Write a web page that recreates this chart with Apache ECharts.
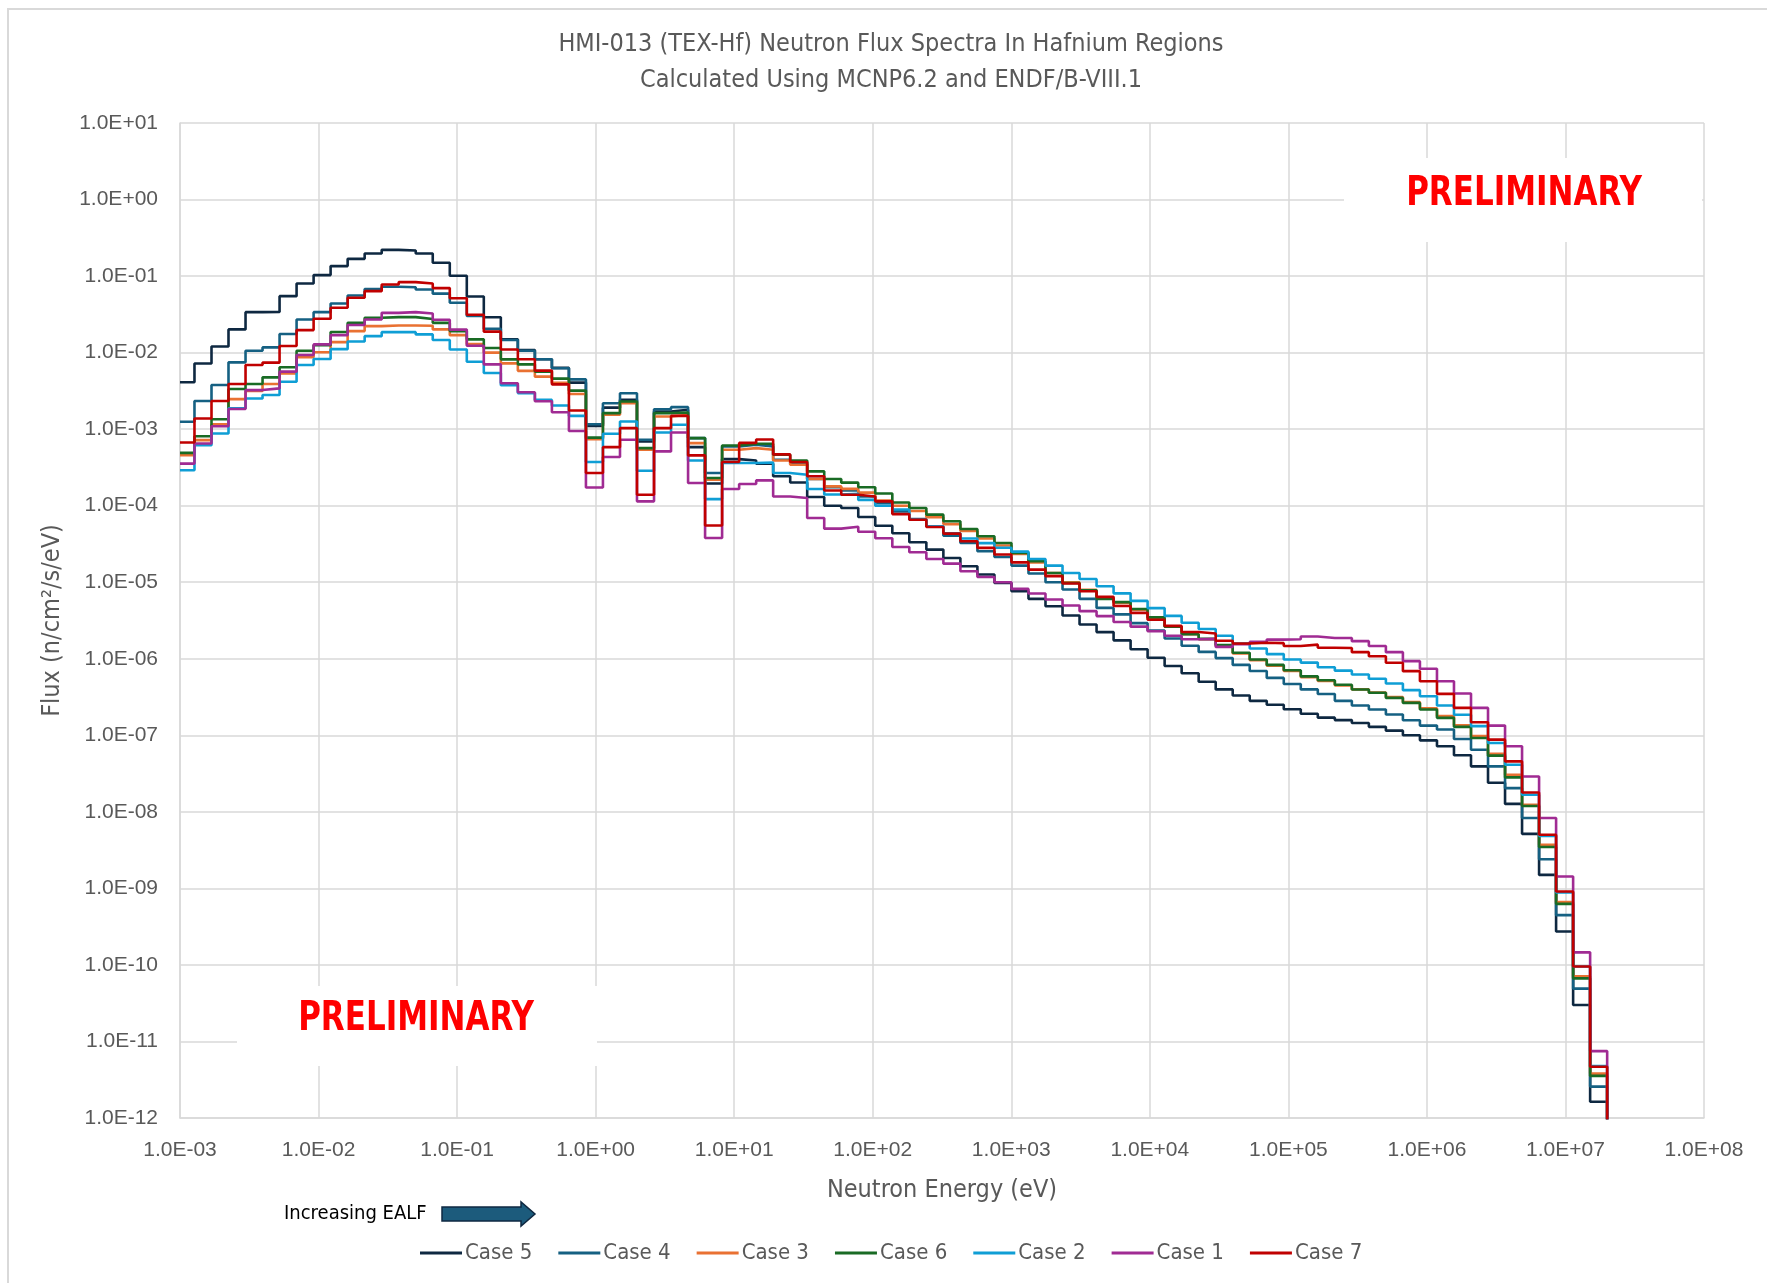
<!DOCTYPE html>
<html>
<head>
<meta charset="utf-8">
<title>HMI-013 (TEX-Hf) Neutron Flux Spectra</title>
<script src="https://cdn.jsdelivr.net/npm/echarts@6/dist/echarts.min.js"></script>
<style>
  html, body { margin: 0; padding: 0; background: #fff; }
  #fluxChart { width: 1767px; height: 1283px; }
</style>
</head>
<body>
<div id="fluxChart"></div>
<script>
// group boundaries in eV (first value = lower edge of the first plotted group)
const energyEdges = [
  1.0e-3, 1.272e-3, 1.688e-3, 2.239e-3, 2.972e-3, 3.943e-3, 5.232e-3, 6.942e-3, 9.213e-3,
  1.222e-2, 1.622e-2, 2.152e-2, 2.856e-2, 3.790e-2, 5.029e-2, 6.673e-2, 8.856e-2,
  0.1175, 0.1559, 0.2069, 0.2745, 0.3643, 0.4834, 0.6414, 0.8511,
  1.129, 1.499, 1.988, 2.639, 3.501, 4.647, 6.165, 8.181,
  10.86, 14.41, 19.11, 25.37, 33.65, 44.66, 59.26, 78.63,
  104.3, 138.5, 183.7, 243.8, 323.5, 429.3, 569.6, 755.9,
  1003, 1331, 1766, 2344, 3110, 4127, 5476, 7266, 9638,
  12790, 16970, 22520, 29890, 39660, 52620, 69820, 92650,
  122900, 163100, 216500, 287200, 381100, 505700, 671000, 890400,
  1.182e6, 1.568e6, 2.081e6, 2.761e6, 3.664e6, 4.861e6, 6.451e6, 8.559e6,
  1.136e7, 1.507e7, 2.0e7
]

// group flux, n/cm2/s/eV (one value per group)
const case5 = [
  4.1e-3, 7.2e-3, 1.20e-2, 2.01e-2, 3.38e-2, 3.39e-2, 5.47e-2, 8.0e-2, 1.03e-1, 1.35e-1,
  1.68e-1, 1.97e-1, 2.20e-1, 2.16e-1, 1.97e-1, 1.49e-1, 1.01e-1, 5.42e-2, 2.90e-2, 1.49e-2,
  1.08e-2, 8.18e-3, 6.31e-3, 4.06e-3, 1.10e-3, 1.91e-3, 2.42e-3, 6.90e-4, 1.70e-3, 1.79e-3,
  5.82e-4, 1.95e-4, 4.06e-4, 3.90e-4, 3.53e-4, 2.42e-4, 2.01e-4, 1.30e-4, 1.00e-4, 9.33e-5,
  7.11e-5, 5.48e-5, 4.37e-5, 3.33e-5, 2.67e-5, 2.07e-5, 1.62e-5, 1.26e-5, 9.79e-6, 7.64e-6,
  6.07e-6, 4.86e-6, 3.67e-6, 2.81e-6, 2.23e-6, 1.74e-6, 1.33e-6, 1.03e-6, 8.05e-7, 6.46e-7,
  5.01e-7, 3.98e-7, 3.31e-7, 2.82e-7, 2.51e-7, 2.19e-7, 1.91e-7, 1.70e-7, 1.58e-7, 1.45e-7,
  1.29e-7, 1.15e-7, 1.00e-7, 8.59e-8, 7.18e-8, 5.50e-8, 3.93e-8, 2.40e-8, 1.27e-8, 5.16e-9,
  1.50e-9, 2.73e-10, 2.99e-11, 1.63e-12
]
const case4 = [
  1.25e-3, 2.33e-3, 3.77e-3, 7.46e-3, 1.06e-2, 1.17e-2, 1.75e-2, 2.71e-2, 3.38e-2, 4.39e-2,
  5.58e-2, 6.76e-2, 7.24e-2, 7.16e-2, 6.68e-2, 5.89e-2, 4.48e-2, 3.02e-2, 2.04e-2, 1.46e-2,
  1.06e-2, 8.18e-3, 6.25e-3, 4.47e-3, 1.16e-3, 2.18e-3, 2.95e-3, 7.26e-4, 1.82e-3, 1.94e-3,
  7.64e-4, 2.67e-4, 5.94e-4, 6.25e-4, 5.94e-4, 3.98e-4, 3.53e-4, 2.23e-4, 1.74e-4, 1.58e-4,
  1.32e-4, 1.08e-4, 8.43e-5, 6.70e-5, 5.37e-5, 4.06e-5, 3.26e-5, 2.54e-5, 2.14e-5, 1.65e-5,
  1.30e-5, 1.00e-5, 8.02e-6, 6.07e-6, 4.62e-6, 3.80e-6, 2.92e-6, 2.34e-6, 1.84e-6, 1.48e-6,
  1.23e-6, 1.02e-6, 8.32e-7, 6.92e-7, 5.62e-7, 4.68e-7, 3.98e-7, 3.47e-7, 2.82e-7, 2.45e-7,
  2.17e-7, 1.87e-7, 1.57e-7, 1.34e-7, 1.19e-7, 8.95e-8, 6.49e-8, 3.93e-8, 2.04e-8, 8.32e-9,
  2.40e-9, 4.47e-10, 4.90e-11, 2.57e-12
]
const case3 = [
  4.56e-4, 7.18e-4, 1.16e-3, 2.47e-3, 3.15e-3, 3.89e-3, 5.36e-3, 8.69e-3, 1.01e-2, 1.37e-2,
  1.91e-2, 2.22e-2, 2.26e-2, 2.26e-2, 2.24e-2, 2.01e-2, 1.69e-2, 1.29e-2, 1.00e-2, 7.24e-3,
  5.78e-3, 4.85e-3, 4.03e-3, 2.88e-3, 7.41e-4, 1.54e-3, 2.18e-3, 5.37e-4, 1.46e-3, 1.54e-3,
  6.56e-4, 2.18e-4, 5.37e-4, 5.65e-4, 5.37e-4, 3.90e-4, 3.43e-4, 2.23e-4, 1.79e-4, 1.66e-4,
  1.48e-4, 1.17e-4, 1.00e-4, 8.51e-5, 7.08e-5, 5.75e-5, 4.68e-5, 3.72e-5, 3.02e-5, 2.34e-5,
  1.82e-5, 1.32e-5, 1.00e-5, 7.94e-6, 6.17e-6, 5.37e-6, 4.37e-6, 3.39e-6, 2.63e-6, 2.09e-6,
  1.80e-6, 1.48e-6, 1.17e-6, 9.55e-7, 8.13e-7, 6.92e-7, 5.75e-7, 5.13e-7, 4.47e-7, 3.98e-7,
  3.63e-7, 3.16e-7, 2.72e-7, 2.26e-7, 1.78e-7, 1.35e-7, 9.77e-8, 5.75e-8, 3.05e-8, 1.24e-8,
  3.72e-9, 6.61e-10, 7.08e-11, 3.80e-12
]
const case6 = [
  4.90e-4, 8.09e-4, 1.35e-3, 3.34e-3, 3.89e-3, 4.75e-3, 6.43e-3, 1.06e-2, 1.25e-2, 1.86e-2,
  2.45e-2, 2.85e-2, 2.91e-2, 2.91e-2, 2.75e-2, 2.45e-2, 1.91e-2, 1.49e-2, 1.15e-2, 8.17e-3,
  7.03e-3, 5.65e-3, 4.57e-3, 3.19e-3, 7.76e-4, 1.62e-3, 2.30e-3, 5.65e-4, 1.62e-3, 1.65e-3,
  7.64e-4, 2.30e-4, 6.12e-4, 6.44e-4, 6.44e-4, 4.62e-4, 3.90e-4, 2.81e-4, 2.23e-4, 2.00e-4,
  1.74e-4, 1.44e-4, 1.10e-4, 9.33e-5, 7.64e-5, 6.25e-5, 4.97e-5, 3.98e-5, 3.26e-5, 2.42e-5,
  1.88e-5, 1.32e-5, 9.79e-6, 7.87e-6, 6.07e-6, 5.50e-6, 4.47e-6, 3.47e-6, 2.63e-6, 2.09e-6,
  1.82e-6, 1.51e-6, 1.20e-6, 9.77e-7, 8.32e-7, 7.08e-7, 5.89e-7, 5.25e-7, 4.57e-7, 3.96e-7,
  3.59e-7, 3.08e-7, 2.65e-7, 2.17e-7, 1.69e-7, 1.29e-7, 9.23e-8, 5.42e-8, 2.82e-8, 1.19e-8,
  3.47e-9, 6.28e-10, 6.68e-11, 3.55e-12
]
const case2 = [
  2.90e-4, 6.17e-4, 8.77e-4, 1.87e-3, 2.52e-3, 2.79e-3, 4.17e-3, 6.89e-3, 8.26e-3, 1.11e-2,
  1.40e-2, 1.64e-2, 1.85e-2, 1.85e-2, 1.73e-2, 1.46e-2, 1.10e-2, 7.59e-3, 5.41e-3, 3.76e-3,
  2.96e-3, 2.41e-3, 2.04e-3, 1.49e-3, 3.72e-4, 8.69e-4, 1.26e-3, 2.86e-4, 9.06e-4, 1.14e-3,
  3.90e-4, 1.22e-4, 3.61e-4, 3.61e-4, 3.67e-4, 2.67e-4, 2.54e-4, 1.65e-4, 1.40e-4, 1.43e-4,
  1.19e-4, 1.00e-4, 8.91e-5, 6.56e-5, 5.37e-5, 4.37e-5, 3.72e-5, 3.24e-5, 2.82e-5, 2.51e-5,
  2.01e-5, 1.65e-5, 1.32e-5, 1.10e-5, 8.87e-6, 7.16e-6, 5.70e-6, 4.59e-6, 3.63e-6, 2.95e-6,
  2.45e-6, 2.00e-6, 1.58e-6, 1.36e-6, 1.15e-6, 9.77e-7, 8.91e-7, 7.76e-7, 7.00e-7, 6.24e-7,
  5.47e-7, 4.75e-7, 3.89e-7, 3.24e-7, 2.45e-7, 1.86e-7, 1.32e-7, 7.94e-8, 4.13e-8, 1.67e-8,
  4.86e-9, 8.83e-10, 9.55e-11, 4.79e-12
]
const case1 = [
  3.55e-4, 6.49e-4, 1.09e-3, 1.83e-3, 3.24e-3, 3.41e-3, 5.64e-3, 9.31e-3, 1.28e-2, 1.69e-2,
  2.29e-2, 2.71e-2, 3.31e-2, 3.38e-2, 3.25e-2, 2.69e-2, 2.00e-2, 1.23e-2, 7.03e-3, 3.98e-3,
  3.04e-3, 2.31e-3, 1.66e-3, 9.44e-4, 1.73e-4, 4.32e-4, 7.26e-4, 1.14e-4, 5.12e-4, 9.06e-4,
  1.98e-4, 3.78e-5, 1.65e-4, 1.92e-4, 2.14e-4, 1.32e-4, 1.26e-4, 6.90e-5, 5.01e-5, 5.31e-5,
  4.57e-5, 3.76e-5, 2.89e-5, 2.46e-5, 2.01e-5, 1.75e-5, 1.39e-5, 1.17e-5, 1.00e-5, 8.18e-6,
  7.11e-6, 5.94e-6, 4.97e-6, 4.19e-6, 3.61e-6, 3.02e-6, 2.63e-6, 2.29e-6, 2.00e-6, 1.80e-6,
  1.82e-6, 1.43e-6, 1.55e-6, 1.66e-6, 1.78e-6, 1.80e-6, 1.95e-6, 1.87e-6, 1.87e-6, 1.70e-6,
  1.47e-6, 1.22e-6, 9.31e-7, 7.40e-7, 5.09e-7, 3.52e-7, 2.28e-7, 1.34e-7, 7.18e-8, 2.90e-8,
  8.32e-9, 1.43e-9, 1.46e-10, 7.48e-12
]
const case7 = [
  6.68e-4, 1.38e-3, 2.33e-3, 3.89e-3, 6.89e-3, 7.40e-3, 1.22e-2, 1.97e-2, 2.77e-2, 3.85e-2,
  5.20e-2, 6.35e-2, 7.76e-2, 8.34e-2, 8.00e-2, 6.97e-2, 5.13e-2, 3.13e-2, 1.88e-2, 1.10e-2,
  8.18e-3, 5.82e-3, 3.85e-3, 1.75e-3, 2.67e-4, 5.82e-4, 1.03e-3, 1.39e-4, 1.03e-3, 1.49e-3,
  4.54e-4, 5.50e-5, 3.72e-4, 6.61e-4, 7.33e-4, 4.68e-4, 3.72e-4, 2.42e-4, 1.58e-4, 1.39e-4,
  1.32e-4, 1.14e-4, 7.76e-5, 6.56e-5, 5.27e-5, 4.32e-5, 3.43e-5, 2.81e-5, 2.30e-5, 1.82e-5,
  1.46e-5, 1.20e-5, 9.62e-6, 7.64e-6, 6.44e-6, 4.90e-6, 3.98e-6, 3.24e-6, 2.69e-6, 2.24e-6,
  2.14e-6, 1.72e-6, 1.58e-6, 1.62e-6, 1.60e-6, 1.47e-6, 1.53e-6, 1.39e-6, 1.38e-6, 1.22e-6,
  1.08e-6, 8.87e-7, 6.89e-7, 5.09e-7, 3.48e-7, 2.28e-7, 1.48e-7, 8.77e-8, 4.56e-8, 1.79e-8,
  5.01e-9, 9.12e-10, 9.55e-11, 4.68e-12
]

const caseNames = ['Case 5', 'Case 4', 'Case 3', 'Case 6', 'Case 2', 'Case 1', 'Case 7']
const caseColors = ['#0e2841', '#156082', '#e97132', '#196b24', '#0f9ed5', '#a02b93', '#c00000']
const caseFlux = [case5, case4, case3, case6, case2, case1, case7]
// no flux above the last group edge; drawn as a drop off the bottom of the axis
const zeroFlux = 1e-20

const narrowFont = '"Liberation Sans Narrow", "DejaVu Sans Condensed", sans-serif'
const labelFont = '"Liberation Sans", Arial, sans-serif'
const textGrey = '#595959'
const gridGrey = '#d9d9d9'

function stepPoints(values) {
  const n = Math.min(values.length, energyEdges.length - 1)
  const pts = []
  for (let i = 0; i < n; i++) {
    pts.push([energyEdges[i], values[i]])
  }
  pts.push([energyEdges[n], zeroFlux])
  return pts
}

function sciLabel(v) {
  const e = Math.round(Math.log10(v))
  return '1.0E' + (e < 0 ? '-' : '+') + String(Math.abs(e)).padStart(2, '0')
}

const chart = echarts.init(document.getElementById('fluxChart'))

const option = {
  animation: false,
  backgroundColor: '#ffffff',
  title: {
    text: 'HMI-013 (TEX-Hf) Neutron Flux Spectra In Hafnium Regions\nCalculated Using MCNP6.2 and ENDF/B-VIII.1',
    left: 886,
    top: 21,
    textAlign: 'center',
    textStyle: {
      fontFamily: narrowFont,
      fontSize: 25,
      fontWeight: 'normal',
      color: textGrey,
      lineHeight: 36
    }
  },
  legend: {
    data: caseNames,
    left: 420,
    top: 1242,
    padding: 0,
    icon: 'rect',
    itemWidth: 42,
    itemHeight: 3,
    itemGap: 26,
    textStyle: {
      fontFamily: narrowFont,
      fontSize: 22,
      color: textGrey,
      padding: [0, 0, 0, -2]
    }
  },
  grid: {
    left: 180,
    right: 63,
    top: 123,
    bottom: 165,
    containLabel: false
  },
  xAxis: {
    type: 'log',
    logBase: 10,
    min: 1e-3,
    max: 1e8,
    interval: 1,
    name: 'Neutron Energy (eV)',
    nameLocation: 'middle',
    nameGap: 60,
    nameTextStyle: {
      fontFamily: narrowFont,
      fontSize: 25,
      color: textGrey
    },
    axisLine: { show: true, lineStyle: { color: gridGrey, width: 1.5 } },
    axisTick: { show: false },
    axisLabel: {
      formatter: sciLabel,
      margin: 22,
      fontFamily: labelFont,
      fontSize: 21,
      color: textGrey
    },
    splitLine: { show: true, lineStyle: { color: gridGrey, width: 1.5 } }
  },
  yAxis: {
    type: 'log',
    logBase: 10,
    min: 1e-12,
    max: 1e1,
    interval: 1,
    name: 'Flux (n/cm²/s/eV)',
    nameLocation: 'middle',
    nameGap: 115,
    nameRotate: 90,
    nameTextStyle: {
      fontFamily: narrowFont,
      fontSize: 25,
      color: textGrey
    },
    axisLine: { show: true, lineStyle: { color: gridGrey, width: 1.5 } },
    axisTick: { show: false },
    axisLabel: {
      formatter: sciLabel,
      margin: 22,
      fontFamily: labelFont,
      fontSize: 21,
      color: textGrey
    },
    splitLine: { show: true, lineStyle: { color: gridGrey, width: 1.5 } }
  },
  series: caseFlux.map((vals, k) => ({
    name: caseNames[k],
    type: 'line',
    step: 'end',
    symbol: 'none',
    showSymbol: false,
    clip: true,
    color: caseColors[k],
    lineStyle: { color: caseColors[k], width: 2.6 },
    emphasis: { disabled: true },
    data: stepPoints(vals)
  })),
  graphic: [
    {
      // chart frame (right and bottom edges fall off the page)
      type: 'rect',
      z: 1,
      silent: true,
      shape: { x: 8, y: 9, width: 1800, height: 1320 },
      style: { fill: 'none', stroke: gridGrey, lineWidth: 2 }
    },
    {
      type: 'rect',
      z: 100,
      silent: true,
      shape: { x: 1344, y: 158, width: 358, height: 84 },
      style: { fill: '#ffffff' }
    },
    {
      type: 'text',
      z: 101,
      silent: true,
      x: 1524,
      y: 194,
      scaleX: 0.84,
      style: {
        text: 'PRELIMINARY',
        fill: '#ff0000',
        font: 'bold 41px ' + narrowFont,
        textAlign: 'center',
        textVerticalAlign: 'middle'
      }
    },
    {
      type: 'rect',
      z: 100,
      silent: true,
      shape: { x: 237, y: 986, width: 360, height: 80 },
      style: { fill: '#ffffff' }
    },
    {
      type: 'text',
      z: 101,
      silent: true,
      x: 416,
      y: 1019,
      scaleX: 0.84,
      style: {
        text: 'PRELIMINARY',
        fill: '#ff0000',
        font: 'bold 41px ' + narrowFont,
        textAlign: 'center',
        textVerticalAlign: 'middle'
      }
    },
    {
      type: 'text',
      z: 101,
      silent: true,
      x: 284,
      y: 1214,
      style: {
        text: 'Increasing EALF',
        fill: '#000000',
        font: '20px ' + narrowFont,
        textAlign: 'left',
        textVerticalAlign: 'middle'
      }
    },
    {
      type: 'polygon',
      z: 101,
      silent: true,
      shape: {
        points: [[442, 1207], [521, 1207], [521, 1202], [535, 1214], [521, 1226], [521, 1221], [442, 1221]]
      },
      style: { fill: '#1c5b7c', stroke: '#0e2841', lineWidth: 1.5 }
    }
  ]
}

chart.setOption(option)
</script>
</body>
</html>
